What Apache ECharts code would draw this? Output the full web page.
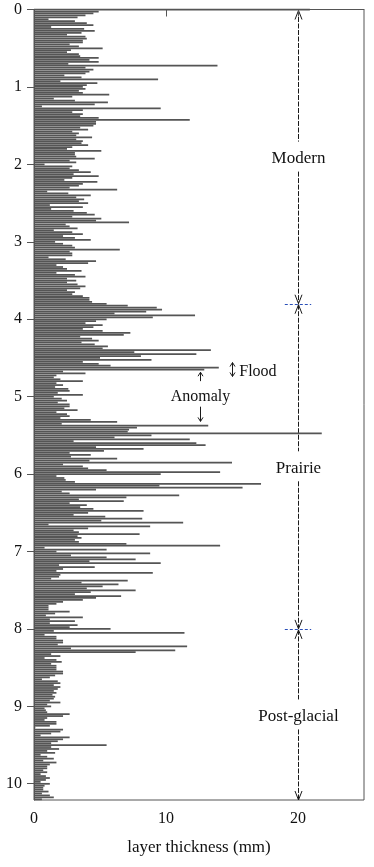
<!DOCTYPE html>
<html><head><meta charset="utf-8">
<script src="https://cdn.jsdelivr.net/npm/echarts@6/dist/echarts.min.js"></script>
<style>html,body{margin:0;padding:0;background:#fff}#c{width:374px;height:867px}</style>
</head><body><div id="c"></div>
<script>
// depth step between consecutive layers (m)
const depthStep = 0.025;
// layer thickness (mm), read top to bottom
const thicknessModernTop = [20.9,4.9,4.5,3.9,3.3,1.1,3.1,4.0,4.5,1.3,3.8,4.6,3.6,2.5,3.9,4.0,3.7,3.7,2.7,3.4,5.2,2.8,2.5,3.4,3.5,4.9,4.2,4.9,2.6,13.9,3.9,4.5,4.2,3.9,2.3,3.6,9.4,2.0,4.8,4.0,3.7,3.9,3.4,3.7,5.7,2.9,1.5,3.1,5.6,4.6,0.6,9.6,3.7,2.9,3.7,3.5,4.9,11.8,4.7,4.7,4.5,3.5,4.1,2.9,3.4,3.2,4.4,3.2];
const thicknessModernMid = [3.7,3.6,4.1,2.9,2.5,5.1,3.1,3.1,3.2,4.6,2.7,3.2,0.8,2.9,2.7,3.4,4.3,3.0,4.9,2.9,2.3,4.8,3.7,3.4,2.7,6.3,1.0,2.6,4.3,3.2,3.8,3.4,4.1,1.2,3.7,1.3,3.0,4.0,4.6,2.9,5.1,4.7,7.2,2.4,2.7,3.3,1.5,2.9,3.7,2.2,3.1,4.3,1.6,2.2,2.9,3.1,6.5,2.7,2.9,2.9,1.1,2.4,4.7,4.1,1.7,2.2,2.5,3.6,1.7];
const thicknessTransition = [3.1,3.9,2.5,3.2,2.5,3.3,3.9,3.5,2.5,3.1,2.9,3.7,4.2,4.2,4.4,5.5,7.1,9.3,9.7,8.5,6.1,12.2,9.0,5.5,4.7,3.9,5.2,4.5,3.7,5.2,7.3,6.8,3.5,4.4,4.9,3.6,4.6,5.6,5.2,13.4,7.6,12.3,8.1,5.0,8.9,3.7,4.9,5.8,14.0,12.9,2.2,3.9,1.7,1.5,2.0,3.7,1.7,2.2,1.6,2.6,2.7,1.8,3.7,1.5,2.1,2.5,1.8,2.7];
const thicknessPrairieTop = [2.7,2.3,3.3,1.7,2.5,2.7,2.0,4.3,6.3,2.1,13.2,7.8,7.2,7.1,21.8,8.9,6.1,11.8,3.0,12.3,13.0,4.7,8.3,5.3,2.7,4.3,2.8,6.3,4.2,15.0,2.2,3.7,4.1,5.5,14.1,9.6,1.7,2.3,2.4,3.1,17.2,9.5,15.8,4.7,2.1,2.7,11.0,7.0,3.4,6.8,2.7,4.0,3.5,4.5,8.3,4.1,3.0,5.4,8.2,5.1,11.3,1.1,8.8,4.1,3.0,3.4,8.0,3.3,3.6];
const thicknessPrairieLow = [3.1,3.4,7.0,14.1,0.8,5.5,1.7,8.8,2.8,5.5,7.7,4.2,9.6,1.9,4.6,2.2,1.7,9.0,2.0,1.9,1.3,7.1,3.6,6.4,5.2,4.0,7.7,4.3,3.1,6.6,4.7,3.7,2.2,1.7,1.1,1.1,1.1,2.7,1.6,0.9,3.7,1.2,3.1,1.2,3.3,2.7,5.8,1.5,11.4,0.8,1.7,1.7,2.2,2.2,1.8,11.6,2.8,10.7,7.7,1.3,2.0,0.8,1.7,2.1,1.3,1.7,1.7,1.7,2.2];
const thicknessPostGlacial = [2.2,1.6,1.2,0.6,1.8,2.0,1.5,2.0,1.8,1.5,1.7,1.4,1.6,1.5,1.2,2.0,1.0,1.3,0.8,0.9,1.0,2.7,2.2,1.0,0.8,1.7,1.7,1.2,0.1,2.2,2.0,1.3,0.5,2.7,2.2,1.8,1.3,5.5,1.3,1.9,1.0,1.6,0.5,1.0,1.5,0.7,1.7,1.2,1.0,1.0,0.7,1.0,0.5,0.9,1.2,0.9,0.5,1.2,0.8,0.7,0.7,1.1,0.6,1.2,1.5,0.6];

const depthTicks = [0,1,2,3,4,5,6,7,8,9,10];
const thicknessTicks = [0,10,20];
const depthMax = 10.21;
const thicknessMax = 25;

const periodNames = ['Modern','Prairie','Post-glacial'];
const periodBounds = [0, 3.8, 8.0, depthMax];
const periodAxisX = 20;

const floodLabel = 'Flood';
const anomalyLabel = 'Anomaly';

const thickness = [].concat(thicknessModernTop, thicknessModernMid, thicknessTransition,
  thicknessPrairieTop, thicknessPrairieLow, thicknessPostGlacial);
const layers = thickness.map((v, i) => [v, +(i * depthStep).toFixed(4)]);

const FONT = '"Liberation Serif", "Times New Roman", serif';
const AXIS = '#555';

const chart = echarts.init(document.getElementById('c'), null, {renderer: 'canvas'});
chart.setOption({
  animation: false,
  grid: {left: 34, right: 10, top: 9.5, bottom: 67, show: true, borderColor: AXIS, borderWidth: 1, backgroundColor: 'transparent'},
  xAxis: {
    type: 'value', min: 0, max: thicknessMax,
    axisLine: {show: true, lineStyle: {color: AXIS}},
    axisTick: {show: true, length: 7, customValues: thicknessTicks, lineStyle: {color: AXIS}},
    axisLabel: {customValues: thicknessTicks, margin: 11, fontFamily: FONT, fontSize: 16, color: '#111'},
    splitLine: {show: false},
    name: 'layer thickness (mm)', nameLocation: 'middle', nameGap: 39,
    nameTextStyle: {fontFamily: FONT, fontSize: 17, color: '#111'}
  },
  yAxis: {
    type: 'value', inverse: true, min: 0, max: depthMax,
    axisLine: {show: true, lineStyle: {color: AXIS}},
    axisTick: {show: true, length: 7, customValues: depthTicks, lineStyle: {color: AXIS}},
    axisLabel: {customValues: depthTicks, margin: 12, fontFamily: FONT, fontSize: 16, color: '#111'},
    splitLine: {show: false}
  },
  series: [{
    type: 'custom', coordinateSystem: 'cartesian2d', data: layers,
    encode: {x: 0, y: 1}, clip: false, silent: true,
    renderItem: function (params, api) {
      const v = api.value(0), d = api.value(1);
      const p0 = api.coord([0, d]);
      const p1 = api.coord([v, d]);
      return {type: 'rect', shape: {x: p0[0], y: p0[1] - 0.8, width: p1[0] - p0[0], height: 1.75},
        style: {fill: '#555555'}};
    }
  }]
});

const px = (x, d) => chart.convertToPixel({gridIndex: 0}, [x, d]);
const els = [];
const DARK = '#1a1a1a';
function line(x1, y1, x2, y2, stroke, dash, w) {
  els.push({type: 'line', silent: true, shape: {x1, y1, x2, y2},
    style: {stroke: stroke, lineWidth: w || 1, lineDash: dash || null}});
}
function head(x, y, dir, hw, hl) { // dir -1: pointing up, +1: pointing down
  els.push({type: 'polyline', silent: true,
    shape: {points: [[x - hw, y - dir * hl], [x, y], [x + hw, y - dir * hl]]},
    style: {stroke: DARK, lineWidth: 1, fill: null}});
}
function text(str, x, y, size, align) {
  els.push({type: 'text', silent: true, x: x, y: y,
    style: {text: str, font: size + 'px ' + FONT, fill: '#111', align: align || 'center', verticalAlign: 'middle'}});
}

// period arrows
for (let k = 0; k < periodNames.length; k++) {
  const top = px(periodAxisX, periodBounds[k]);
  const bot = px(periodAxisX, periodBounds[k + 1]);
  const mid = px(periodAxisX, (periodBounds[k] + periodBounds[k + 1]) / 2);
  const x = Math.round(top[0]) + 0.5;
  const yt = top[1] + 1, yb = bot[1];
  line(x, yt, x, mid[1] - 15, DARK, [5, 1.5], 1);
  line(x, mid[1] + 15, x, yb, DARK, [5, 1.5], 1);
  head(x, yt, -1, 3.5, 9);
  head(x, yb, 1, 3.5, 9);
  text(periodNames[k], x, mid[1] + 2, 17);
}
// boundary markers
for (let k = 1; k < periodBounds.length - 1; k++) {
  const a = px(periodAxisX - 1.0, periodBounds[k]);
  const b = px(periodAxisX + 1.0, periodBounds[k]);
  line(a[0], Math.round(a[1]) + 0.5, b[0], Math.round(a[1]) + 0.5, '#2a4fb8', [3, 2], 1);
}
// Flood annotation
const fA = px(15.0, 4.56), fB = px(15.0, 4.74), fT = px(15.55, 4.675);
const fx = Math.round(fA[0]) + 0.5;
line(fx, fA[1], fx, fB[1], DARK, null, 1);
head(fx, fA[1], -1, 2.5, 4);
head(fx, fB[1], 1, 2.5, 4);
text(floodLabel, fT[0], fT[1], 16, 'left');
// Anomaly annotation
const aT = px(12.6, 5.0);
const ax = Math.round(aT[0]) + 0.5;
const u1 = px(12.6, 4.80), u2 = px(12.6, 4.685);
line(ax, u1[1], ax, u2[1], DARK, null, 1);
head(ax, u2[1], -1, 2.5, 4);
const d1 = px(12.6, 5.13), d2 = px(12.6, 5.32);
line(ax, d1[1], ax, d2[1], DARK, null, 1);
head(ax, d2[1], 1, 2.5, 4);
text(anomalyLabel, ax, aT[1], 16);

chart.setOption({graphic: {elements: els}});
</script>
</body></html>
